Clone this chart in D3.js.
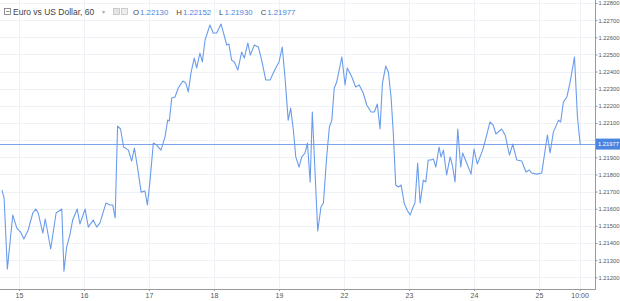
<!DOCTYPE html>
<html><head><meta charset="utf-8">
<script src="https://cdn.jsdelivr.net/npm/d3@7"></script>
<style>
html,body{margin:0;padding:0;background:#fff;overflow:hidden;}
text{font-family:"Liberation Sans",Arial,sans-serif;}
</style></head>
<body><svg id="c" width="620" height="301"></svg>
<script>
const title = "Euro vs US Dollar, 60";
const ohlcLabels = ["O","H","L","C"];
const ohlcValues = ["1.22130","1.22152","1.21930","1.21977"];
const lastPrice = 1.21977;
const dayTickHours = [0,24,48,72,96,120,144,168,192,207];
const dayTickLabels = ["15","16","17","18","19","22","23","24","25","10:00"];
const priceTicks = [1.212,1.213,1.214,1.215,1.216,1.217,1.218,1.219,1.220,1.221,1.222,1.223,1.224,1.225,1.226,1.227,1.228];
const hours = [-6.3,-5.5,-4.3,-2.3,-0.8,0.6,1.8,3.4,5.1,6.2,7.1,8.8,9.7,11.7,13.7,15.8,16.6,17.6,18.8,19.8,21.5,22.5,24.4,25.6,27.4,28.7,29.9,32.1,33.6,34.6,35.5,36.4,37.5,38.6,40.4,41.6,42.6,43.8,45.1,46.5,47.4,48.4,49.6,50.8,52.4,53.9,54.9,55.5,56.4,57.6,58.8,60.5,61.6,62.5,63.5,64.7,65.6,66.8,67.7,68.7,70.5,71.7,73.0,74.6,75.4,76.7,77.5,78.5,79.5,80.8,82.2,83.2,84.5,85.4,86.9,88.4,89.6,91.1,92.7,93.9,94.8,96.0,97.2,98.2,99.4,100.3,101.3,102.2,103.4,104.4,105.6,106.5,107.5,108.3,109.3,110.3,111.5,112.4,113.6,114.6,115.5,116.4,117.3,119.2,120.4,121.2,122.9,124.3,125.6,127.1,128.4,130.0,131.2,132.3,133.3,134.2,135.4,136.4,137.4,138.2,139.1,140.1,141.1,142.3,143.5,144.4,145.2,146.2,147.2,148.1,149.3,150.2,151.1,152.1,153.0,153.9,155.1,155.8,156.7,157.9,159.2,160.0,161.0,162.0,163.1,163.8,165.3,166.9,168.0,169.2,171.2,172.5,173.9,175.1,176.1,178.2,179.5,181.1,182.3,183.8,185.6,187.2,188.4,189.3,191.2,193.0,195.1,196.1,197.3,199.2,200.0,201.0,202.3,203.5,205.1,206.2,207.2];
const prices = [1.21709,1.21662,1.21248,1.21563,1.21487,1.21464,1.21423,1.21476,1.21575,1.21598,1.21575,1.21458,1.21540,1.21365,1.21575,1.21598,1.21236,1.21377,1.21447,1.21534,1.21598,1.21511,1.21598,1.21493,1.21534,1.21493,1.21517,1.21633,1.21622,1.21622,1.21546,1.22082,1.22065,1.21960,1.21942,1.21878,1.21954,1.21837,1.21697,1.21703,1.21622,1.21767,1.21983,1.21972,1.21942,1.22018,1.22117,1.22112,1.22246,1.22252,1.22304,1.22345,1.22333,1.22281,1.22392,1.22479,1.22421,1.22508,1.22456,1.22584,1.22672,1.22625,1.22625,1.22677,1.22631,1.22555,1.22561,1.22467,1.22456,1.22409,1.22514,1.22479,1.22567,1.22497,1.22555,1.22543,1.22467,1.22351,1.22351,1.22392,1.22421,1.22456,1.22543,1.22368,1.22117,1.22187,1.22059,1.21902,1.21843,1.21902,1.21925,1.21983,1.21756,1.22164,1.21814,1.21470,1.21610,1.21633,1.21902,1.22077,1.22117,1.22304,1.22339,1.22485,1.22322,1.22421,1.22368,1.22310,1.22322,1.22275,1.22205,1.22164,1.22164,1.22211,1.22065,1.22333,1.22432,1.22397,1.22246,1.22042,1.21738,1.21727,1.21738,1.21627,1.21587,1.21563,1.21598,1.21633,1.21867,1.21633,1.21767,1.21756,1.21884,1.21884,1.21890,1.21843,1.21960,1.21902,1.21942,1.21797,1.21902,1.21855,1.21756,1.22065,1.21843,1.21925,1.21867,1.21802,1.21948,1.21861,1.21942,1.22018,1.22106,1.22088,1.22036,1.22065,1.22030,1.21913,1.21977,1.21884,1.21878,1.21814,1.21826,1.21808,1.21802,1.21808,1.22030,1.21925,1.22047,1.22117,1.22106,1.22222,1.22252,1.22339,1.22485,1.22135,1.21977];

const svg = d3.select("#c");
const plotRight = 595, axisY = 289;
const x = d3.scaleLinear().domain([0, 24]).range([19, 19 + 65]);
const y = d3.scaleLinear().domain([1.212, 1.228]).range([277.3, 3]);
const gridC = "#eef1f6";

svg.append("g").selectAll("line").data(priceTicks).join("line")
  .attr("x1",0).attr("x2",plotRight).attr("y1",d=>Math.round(y(d))+0.5).attr("y2",d=>Math.round(y(d))+0.5)
  .attr("stroke",gridC).attr("stroke-width",1);
svg.append("g").selectAll("line").data(dayTickHours).join("line")
  .attr("x1",d=>Math.round(x(d))+0.5).attr("x2",d=>Math.round(x(d))+0.5).attr("y1",0).attr("y2",axisY)
  .attr("stroke",gridC).attr("stroke-width",1);

svg.append("clipPath").attr("id","clip").append("rect").attr("x",0).attr("y",0).attr("width",plotRight).attr("height",axisY);

svg.append("line").attr("x1",0).attr("x2",plotRight)
  .attr("y1",Math.round(y(lastPrice))+0.5).attr("y2",Math.round(y(lastPrice))+0.5)
  .attr("stroke","#7ba4ea").attr("stroke-width",1);

const line = d3.line().x((d,i)=>x(hours[i])).y(d=>y(d));
svg.append("path").datum(prices).attr("clip-path","url(#clip)")
  .attr("d",line).attr("fill","none").attr("stroke","#6a9ceb").attr("stroke-width",1.1).attr("stroke-linejoin","round");

svg.append("line").attr("x1",plotRight+0.5).attr("x2",plotRight+0.5).attr("y1",0).attr("y2",axisY)
  .attr("stroke","#9a9a9a").attr("stroke-width",1);
const ya = svg.append("g").attr("transform",`translate(${plotRight},0)`)
  .call(d3.axisRight(y).tickValues(priceTicks).tickFormat(d3.format(".5f")).tickSize(2.5).tickPadding(1));
ya.select(".domain").remove();
ya.selectAll("line").attr("stroke","#9a9a9a");
ya.selectAll("text").attr("fill","#555").style("font-size","5.8px");
ya.selectAll(".tick").filter(d=>Math.abs(y(d)-y(lastPrice))<7).select("text").remove();

svg.append("line").attr("x1",0).attr("x2",plotRight+1).attr("y1",axisY+0.5).attr("y2",axisY+0.5)
  .attr("stroke","#9a9a9a").attr("stroke-width",1);
const xa = svg.append("g").attr("transform",`translate(0,${axisY})`)
  .call(d3.axisBottom(x).tickValues(dayTickHours).tickFormat((d,i)=>dayTickLabels[i]).tickSize(2).tickPadding(2));
xa.select(".domain").remove();
xa.selectAll("line").attr("stroke","#9a9a9a");
xa.selectAll("text").attr("fill","#555").style("font-size","7px");

const ly = y(lastPrice);
svg.append("rect").attr("x",plotRight+1).attr("y",ly-5.5).attr("width",25).attr("height",11).attr("fill","#4a86e0");
svg.append("text").attr("x",plotRight+3).attr("y",ly+2.2).attr("fill","#fff").style("font-size","5.8px").text(d3.format(".5f")(lastPrice));

const hdr = svg.append("g");
hdr.append("rect").attr("x",4.5).attr("y",8.5).attr("width",6).attr("height",6).attr("fill","none").attr("stroke","#777").attr("stroke-width",0.8);
hdr.append("line").attr("x1",6).attr("x2",9.5).attr("y1",11.5).attr("y2",11.5).attr("stroke","#777").attr("stroke-width",0.8);
hdr.append("text").attr("x",13).attr("y",14.5).attr("fill","#444").style("font-size","8.5px").text(title);
hdr.append("text").attr("x",102).attr("y",14).attr("fill","#aaa").style("font-size","6px").text("▾");
hdr.append("rect").attr("x",113.5).attr("y",8.5).attr("width",6).attr("height",6).attr("fill","#e4e4e4").attr("stroke","#bbb").attr("stroke-width",0.7);
hdr.append("rect").attr("x",121.5).attr("y",8.5).attr("width",6).attr("height",6).attr("fill","#eee").attr("stroke","#bbb").attr("stroke-width",0.7);
let ox = 133;
ohlcLabels.forEach((l,i)=>{
  const t = hdr.append("text").attr("x",ox).attr("y",14.5).style("font-size","7.8px");
  t.append("tspan").attr("fill","#444").text(l);
  t.append("tspan").attr("fill","#4a86e0").attr("dx",1).text(ohlcValues[i]);
  ox += t.node().getComputedTextLength() + 9;
});
</script></body></html>
